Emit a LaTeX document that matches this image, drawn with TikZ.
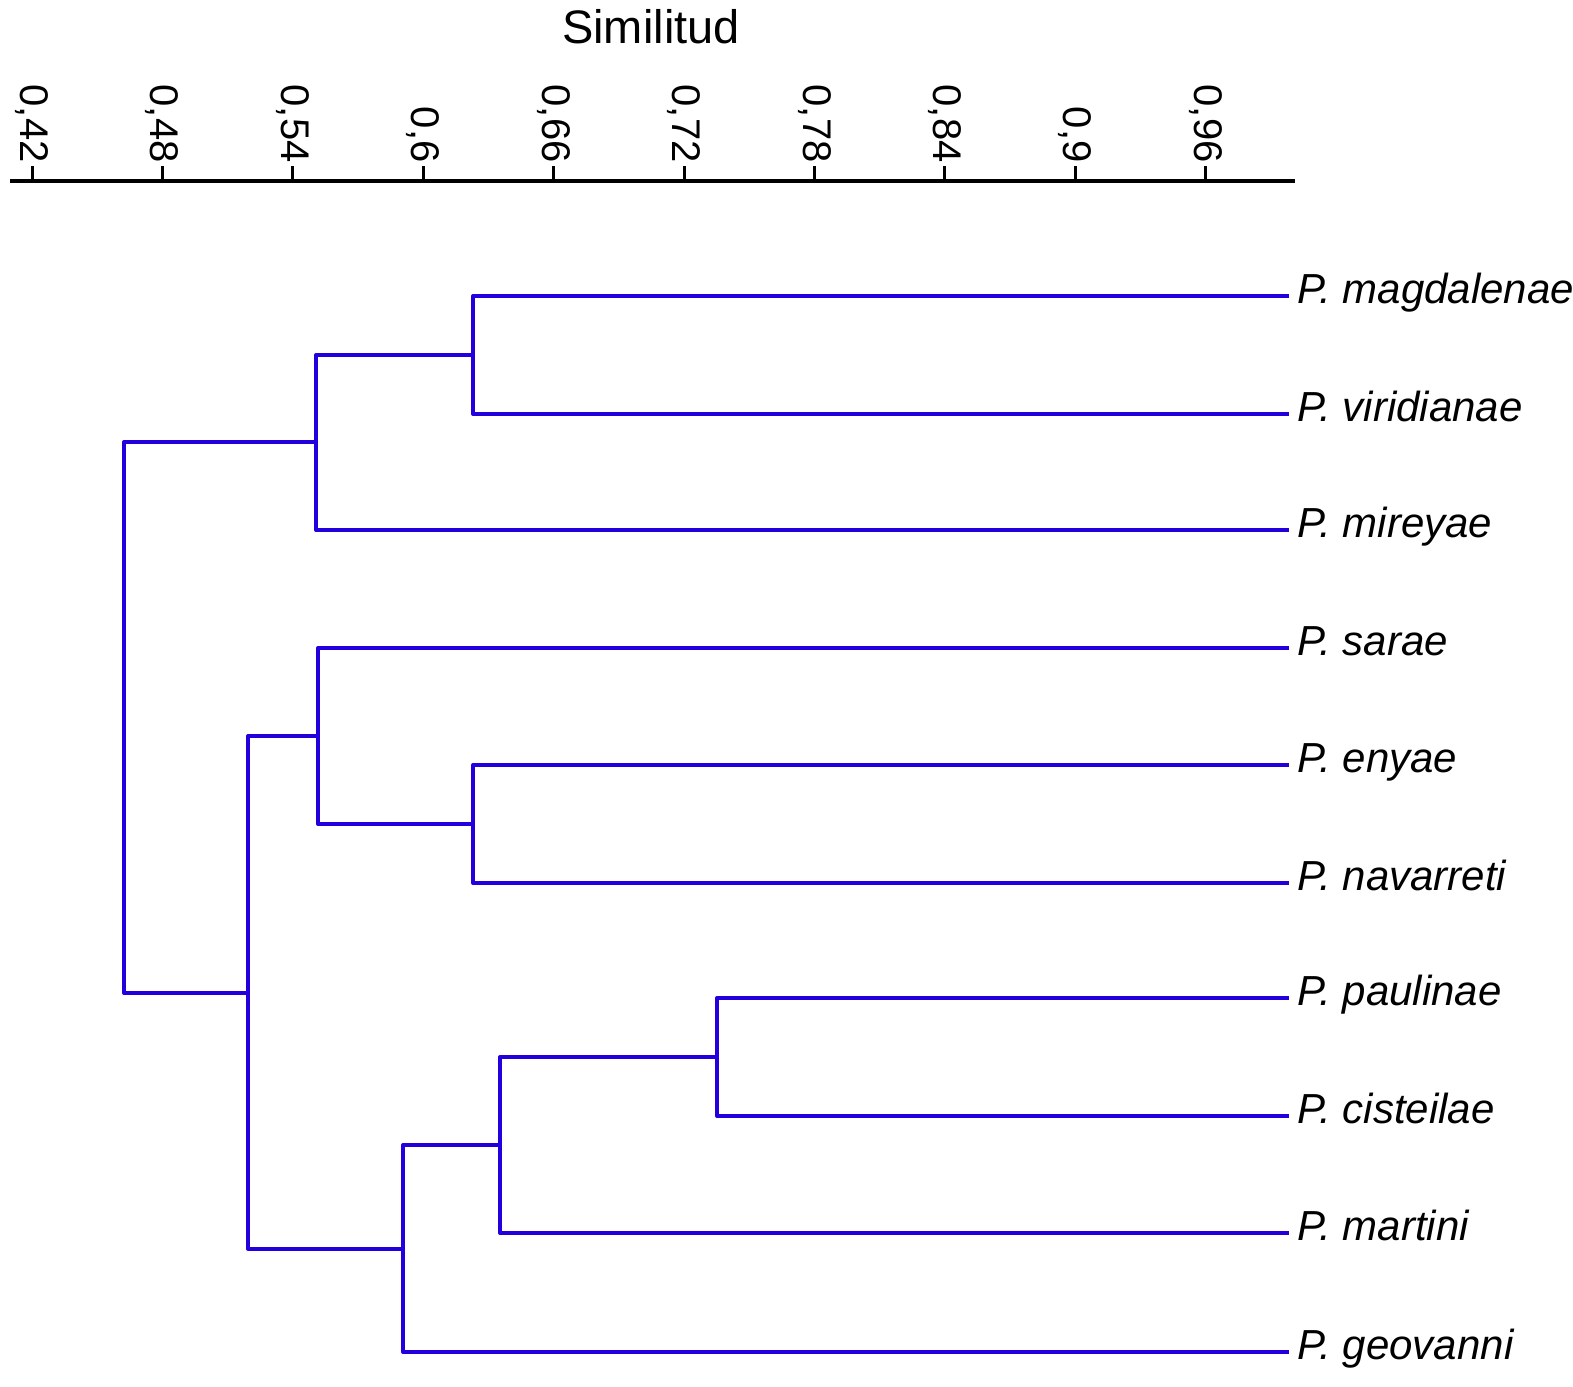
\documentclass[tikz,border=0pt]{standalone}
\usepackage{fontspec}
\setmainfont{Liberation Sans}
\usetikzlibrary{positioning}
\usetikzlibrary{calc}
\definecolor{dendro}{RGB}{34,0,221}
\tikzset{every picture/.style={line width=2pt}}
\tikzset{branch/.style={draw=dendro,line width=2pt,line join=round},
  leaf/.style={anchor=west,inner sep=3pt,text height=0.72em,text depth=0pt,font=\fontsize{21}{25}\selectfont\itshape},
  ticklabel/.style={rotate=-90,anchor=east,inner sep=1pt,font=\fontsize{20}{24}\selectfont}}

\begin{document}
\begin{tikzpicture}[x=0.5pt,y=-0.5pt]
\useasboundingbox (0,0) rectangle (1573,1386);
\node (title) at (651,27) [font=\fontsize{23.5}{28}\selectfont] {Similitud};

% scale
\coordinate (axl) at (10,181);
\coordinate (axr) at (1295,181);
\draw[line width=2.2pt] (axl) -- (axr);
\foreach \lab [count=\i from 0] in {{0,42},{0,48},{0,54},{0,6},{0,66},{0,72},{0,78},{0,84},{0,9},{0,96}}
  \draw[line width=1.5pt] (32+\i*130.4,181) -- (32+\i*130.4,166) node[ticklabel] {\lab};

% species
\node (magd) at (1289,296) [leaf] {P. magdalenae};
\node (viri) at (1289,414) [leaf] {P. viridianae};
\node (mire) at (1289,530) [leaf] {P. mireyae};
\node (sara) at (1289,648) [leaf] {P. sarae};
\node (enya) at (1289,765) [leaf] {P. enyae};
\node (nava) at (1289,883) [leaf] {P. navarreti};
\node (paul) at (1289,998) [leaf] {P. paulinae};
\node (cist) at (1289,1116) [leaf] {P. cisteilae};
\node (mart) at (1289,1233) [leaf] {P. martini};
\node (geov) at (1289,1352) [leaf] {P. geovanni};

% joins
\coordinate (n1) at (473,355);
\coordinate (n2) at (316,442);
\coordinate (n3) at (473,824);
\coordinate (n4) at (318,736);
\coordinate (n5) at (717,1057);
\coordinate (n6) at (500,1145);
\coordinate (n7) at (403,1248.5);
\coordinate (n8) at (248,993);
\coordinate (root) at (124,717);

\draw[branch] (magd.west) -| (n1) |- (viri.west);
\draw[branch] (n1) -| (n2) |- (mire.west);
\draw[branch] (enya.west) -| (n3) |- (nava.west);
\draw[branch] (sara.west) -| (n4) |- (n3);
\draw[branch] (paul.west) -| (n5) |- (cist.west);
\draw[branch] (n5) -| (n6) |- (mart.west);
\draw[branch] (n6) -| (n7) |- (geov.west);
\draw[branch] (n4) -| (n8) |- (n7);
\draw[branch] (n2) -| (root) |- (n8);
\end{tikzpicture}
\end{document}
